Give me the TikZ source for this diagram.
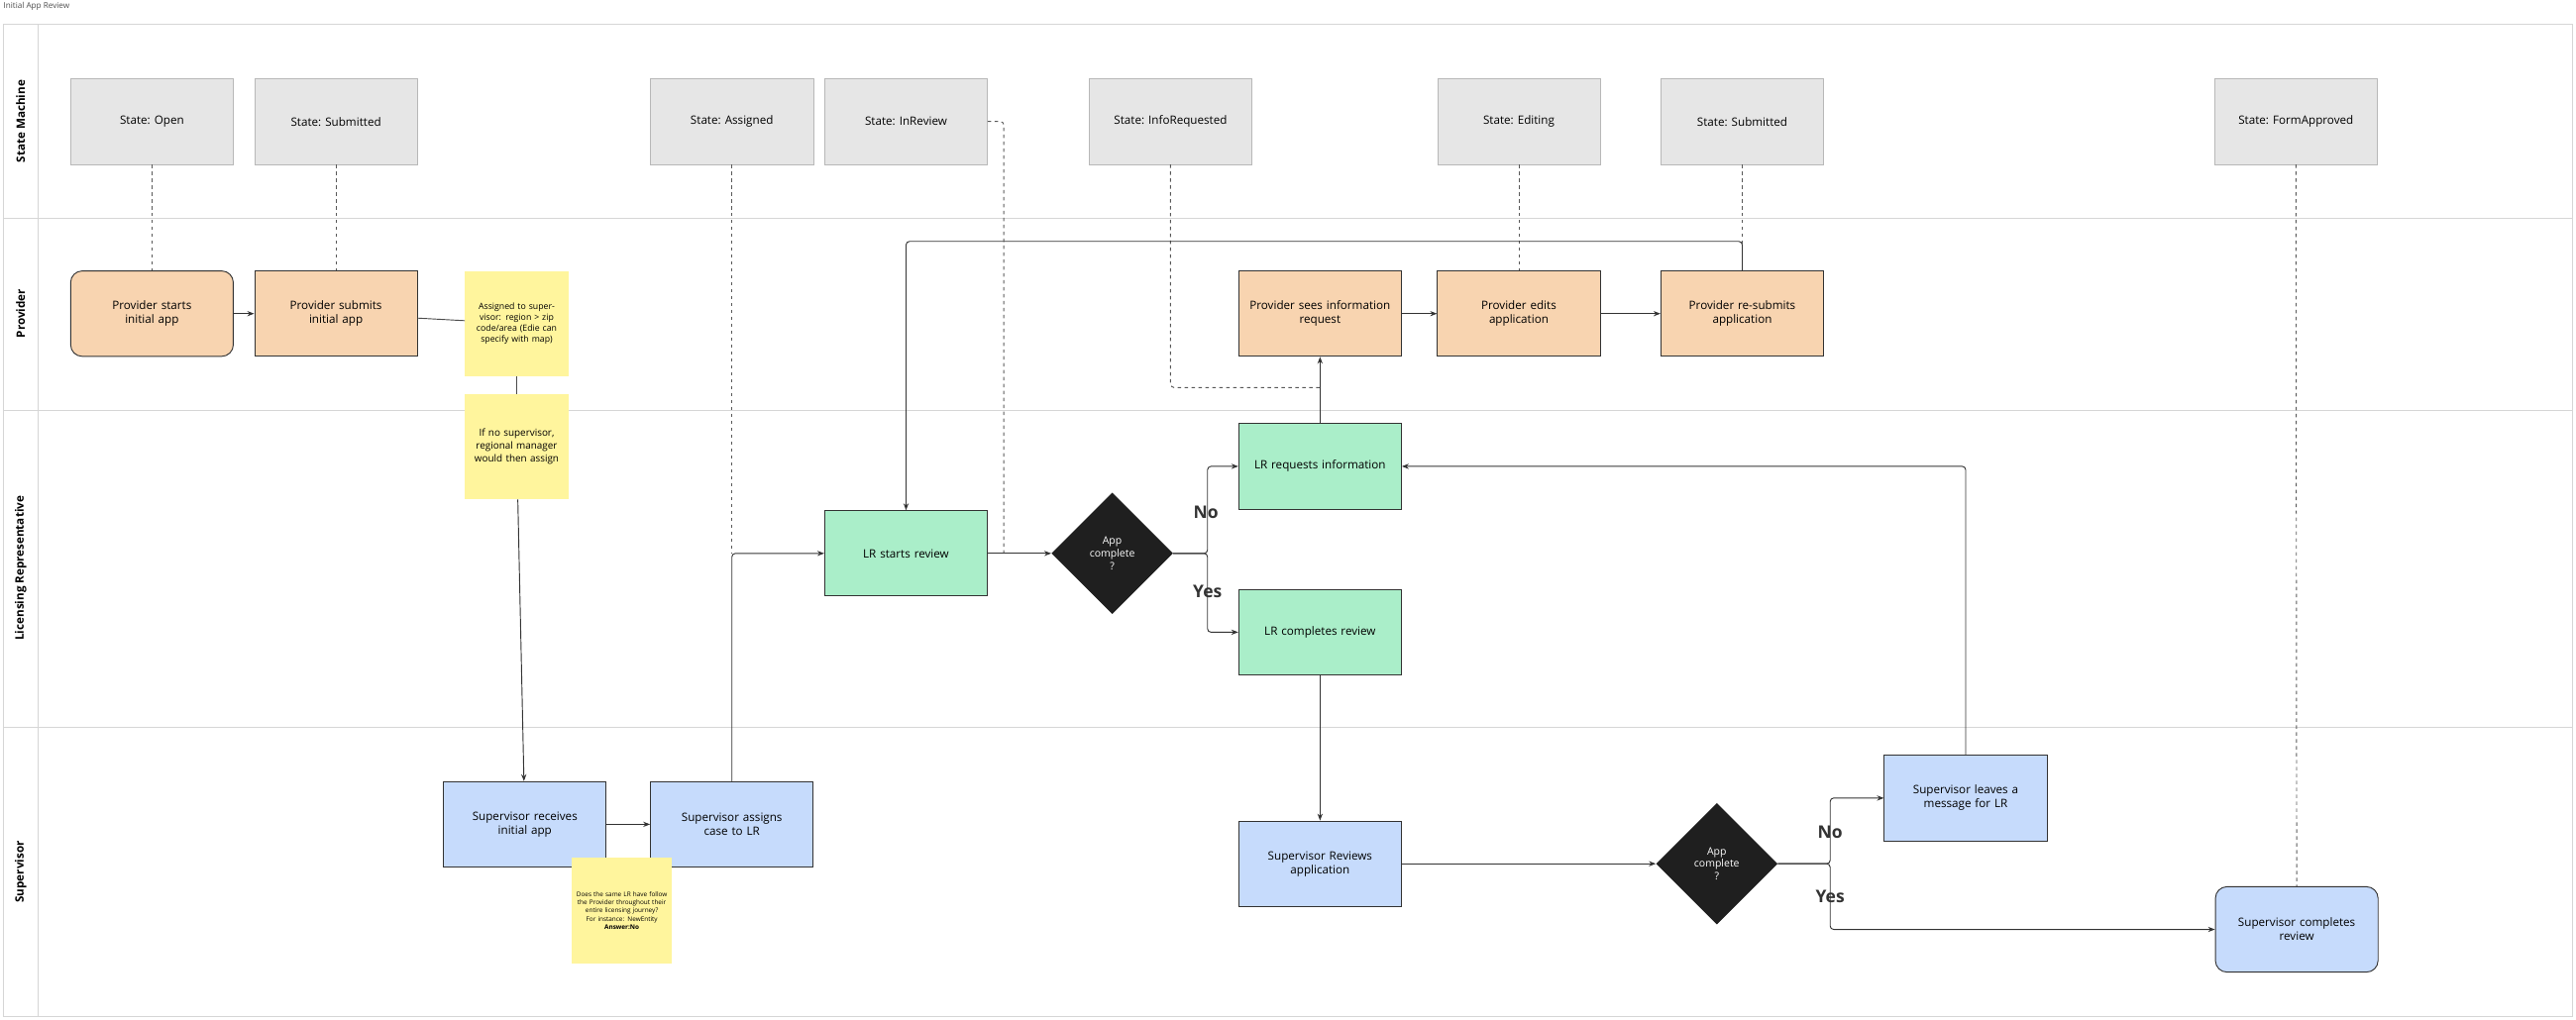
\documentclass[tikz,border=0pt]{standalone}
\usepackage{fontspec}
\setmainfont{Open Sans}
\usetikzlibrary{arrows.meta,shapes.geometric}

\definecolor{stategray}{HTML}{E6E6E6}
\definecolor{stateedge}{HTML}{B8B8B8}
\definecolor{provorange}{HTML}{F8D4B0}
\definecolor{lrgreen}{HTML}{AAEEC9}
\definecolor{supblue}{HTML}{C6DBFC}
\definecolor{stickyyellow}{HTML}{FFF59D}
\definecolor{lanegray}{HTML}{D6D6D6}

\begin{document}
\begin{tikzpicture}[x=0.05cm,y=-0.05cm,
  statebox/.style={draw=stateedge,fill=stategray,minimum width=4.95cm,
    minimum height=2.6cm,font=\fontsize{10}{12}\selectfont},
  taskbox/.style={draw=black!80,thick,minimum width=4.95cm,minimum height=2.6cm,
    align=center,text width=4.7cm,font=\fontsize{10}{12}\selectfont},
  provbox/.style={taskbox,fill=provorange},
  lrbox/.style={taskbox,fill=lrgreen},
  supbox/.style={taskbox,fill=supblue},
  sticky/.style={fill=stickyyellow,align=center,inner sep=2pt},
  choice/.style={diamond,fill=black!88,text=white,minimum width=3.7cm,
    minimum height=3.7cm,inner sep=0pt,align=center,font=\fontsize{9}{11}\selectfont},
  flow/.style={-{Stealth[length=6pt]},thick,black!80,rounded corners=3pt},
  plain/.style={thick,black!70},
  tie/.style={dashed,thick,black!65,rounded corners=3pt},
  lanelabel/.style={rotate=90,font=\bfseries\fontsize{10}{12}\selectfont},
  answer/.style={font=\bfseries\fontsize{15}{17}\selectfont,text=black!80}]

\useasboundingbox (0,0) rectangle (1568,620.6);

% lanes
\draw[lanegray,thick] (2,15) rectangle (1566,619);
\draw[lanegray,thick] (23,15) -- (23,619);
\foreach \y in {133,250,443}
  \draw[lanegray,thick] (2,\y) -- (1566,\y);
\node[anchor=north west,inner sep=0pt,font=\fontsize{7}{8}\selectfont,text=black!70]
  (title) at (2,1) {Initial App Review};
\node[lanelabel] (lsm) at (12.5,74) {State Machine};
\node[lanelabel] (lprov) at (12.5,191) {Provider};
\node[lanelabel] (llr) at (12.5,346) {Licensing Representative};
\node[lanelabel] (lsup) at (12.5,531) {Supervisor};

% states
\node[statebox] (sopen) at (92.5,74) {State: Open};
\node[statebox] (ssub) at (204.5,74) {State: Submitted};
\node[statebox] (sassign) at (445.5,74) {State: Assigned};
\node[statebox] (sreview) at (551.5,74) {State: InReview};
\node[statebox] (sinfo) at (712.5,74) {State: InfoRequested};
\node[statebox] (sedit) at (924.5,74) {State: Editing};
\node[statebox] (ssub2) at (1060.5,74) {State: Submitted};
\node[statebox] (sappr) at (1397.5,74) {State: FormApproved};

% provider
\node[provbox,rounded corners=10pt] (pstart) at (92.5,191) {Provider starts\\initial app};
\node[provbox] (psubmit) at (204.5,191) {Provider submits\\initial app};
\node[provbox] (psees) at (803.5,191) {Provider sees information\\request};
\node[provbox] (pedit) at (924.5,191) {Provider edits\\application};
\node[provbox] (presub) at (1060.5,191) {Provider re-submits\\application};
\node[sticky,minimum width=3.15cm,minimum height=3.2cm,text width=2.9cm,
  font=\fontsize{7.5}{9.5}\selectfont] (note1) at (314.5,197)
  {Assigned to supervisor: region > zip code/area (Edie can specify with map)};
\node[sticky,minimum width=3.15cm,minimum height=3.2cm,text width=2.9cm,
  font=\fontsize{8.5}{11}\selectfont] (note2) at (314.5,272)
  {If no supervisor, regional manager would then assign};

% licensing representative
\node[lrbox] (lstart) at (551.5,337) {LR starts review};
\node[choice] (qapp) at (677,337) {App\\complete\\?};
\node[lrbox] (lreq) at (803.5,284) {LR requests information};
\node[lrbox] (ldone) at (803.5,385) {LR completes review};

% supervisor
\node[supbox] (srecv) at (319.5,502) {Supervisor receives\\initial app};
\node[supbox] (sasg) at (445.5,502) {Supervisor assigns\\case to LR};
\node[supbox] (srev) at (803.5,526) {Supervisor Reviews\\application};
\node[choice] (qsup) at (1045,526) {App\\complete\\?};
\node[supbox] (smsg) at (1196.5,486) {Supervisor leaves a\\message for LR};
\node[supbox,rounded corners=10pt] (sdone) at (1398,566) {Supervisor completes\\review};
\node[sticky,minimum width=3.05cm,minimum height=3.25cm,text width=2.9cm,
  font=\fontsize{5.5}{7}\selectfont] (note3) at (378.5,554.5)
  {Does the same LR have follow the Provider throughout their entire licensing journey? For instance: NewEntity\\\textbf{Answer:No}};

% state ties
\draw[tie] (sopen) -- (pstart);
\draw[tie] (ssub) -- (psubmit);
\draw[tie] (sassign) -- (445.5,337);
\draw[tie] (sreview.east) -- (611,74) -- (611,337);
\draw[tie] (sinfo) -- (712.5,236) -- (803.5,236);
\draw[tie] (sedit) -- (pedit);
\draw[tie] (ssub2) -- (presub);
\draw[tie] (sappr) -- (sdone);

% flow
\draw[flow] (pstart) -- (psubmit);
\draw[plain] (psubmit) -- (note1);
\draw[plain] (note1) -- (note2);
\draw[flow] (note2) -- (srecv);
\draw[flow] (srecv) -- (sasg);
\draw[flow] (sasg.north) -- (445.5,337) -- (lstart.west);
\draw[flow] (lstart) -- (qapp);
\draw[flow] (qapp.east) -- (735,337) -- (735,284) -- (lreq.west);
\draw[flow] (qapp.east) -- (735,337) -- (735,385) -- (ldone.west);
\node[answer] (ano) at (734,312) {No};
\node[answer] (ayes) at (735,360) {Yes};
\draw[flow] (lreq) -- (psees);
\draw[flow] (psees) -- (pedit);
\draw[flow] (pedit) -- (presub);
\draw[flow] (presub.north) -- (1060.5,147) -- (551.5,147) -- (lstart.north);
\draw[flow] (ldone) -- (srev);
\draw[flow] (srev) -- (qsup);
\draw[flow] (qsup.east) -- (1114,526) -- (1114,486) -- (smsg.west);
\draw[flow] (qsup.east) -- (1114,526) -- (1114,566) -- (sdone.west);
\node[answer] (bno) at (1114,507) {No};
\node[answer] (byes) at (1114,546) {Yes};
\draw[flow] (smsg.north) -- (1196.5,284) -- (lreq.east);
\end{tikzpicture}
\end{document}
